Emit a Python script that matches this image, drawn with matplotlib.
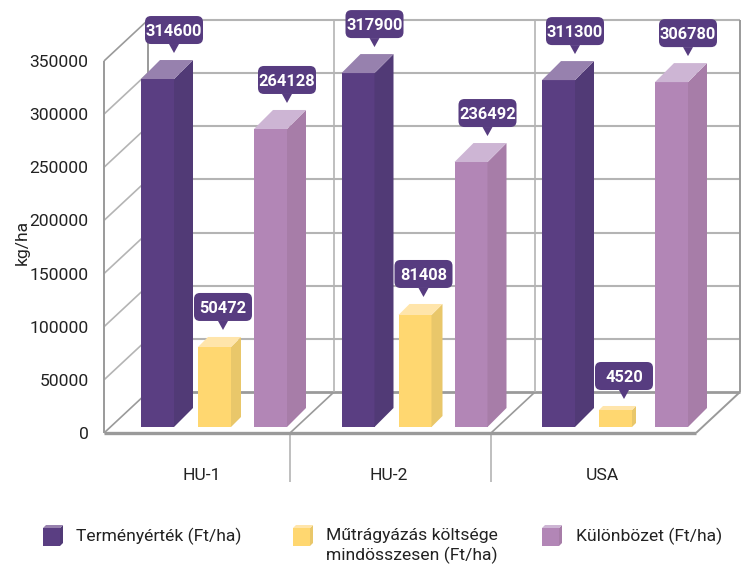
import matplotlib
matplotlib.use("Agg")
import matplotlib.pyplot as plt
from matplotlib.patches import Polygon, FancyBboxPatch

plt.rcParams['font.family'] = ['Roboto', 'Liberation Sans', 'DejaVu Sans']

categories = ['HU-1', 'HU-2', 'USA']
series_names = ['Terményérték (Ft/ha)', 'Műtrágyázás költsége\nmindösszesen (Ft/ha)', 'Különbözet (Ft/ha)']
# printed data labels
label_termeny = [314600, 317900, 311300]
label_mutragya = [50472, 81408, 4520]
label_kulonbozet = [264128, 236492, 306780]
# bar heights as drawn, read against the axis
bar_termeny = [327400, 333000, 326400]
bar_mutragya = [75300, 105400, 16000]
bar_kulonbozet = [280400, 249300, 324500]
y_ticks = [0, 50000, 100000, 150000, 200000, 250000, 300000, 350000]

W, H = 743, 566
L, R, T, B = 104, 696, 61, 433
GX = 200.5              # pixels per category
C0 = 214                # pixel of category 0
UY = 350000 / (B - T)   # value units per pixel

fig = plt.figure(figsize=(W / 100, H / 100), dpi=100, facecolor='white')
ax = fig.add_axes([L / W, 1 - B / H, (R - L) / W, (B - T) / H])
ax.set_xlim((L - C0) / GX, (R - C0) / GX)
ax.set_ylim(0, 350000)
ax.patch.set_visible(False)
for s in ax.spines.values():
    s.set_visible(False)

def X(i, px=0):
    return i + px / GX

def Y(v, px=0):
    return v + px * UY

DX, DY = 44, 41
GRID = '#b4b4b4'
EDGE = '#9a9a9a'

def line(xs, ys, c=GRID, lw=1.2, z=1):
    ax.plot(xs, ys, color=c, lw=lw, zorder=z, clip_on=False, solid_capstyle='butt')

x_left = ax.get_xlim()[0]
x_right = ax.get_xlim()[1]
for v in y_ticks:
    line([x_left, X(x_left, DX)], [v, Y(v, DY)], c=EDGE if v in (0, 350000) else GRID)
    line([X(x_left, DX), X(x_right, DX)], [Y(v, DY), Y(v, DY)],
         c=EDGE if v == 0 else GRID, lw=2 if v == 0 else 1.5)
line([x_left, x_left], [0, 350000], c=EDGE, lw=1.4)
line([X(x_left, DX)] * 2, [Y(0, DY), Y(350000, DY)], c=EDGE, lw=1.4)
line([X(x_right, DX)] * 2, [Y(0, DY), Y(350000, DY)], c=EDGE, lw=1.4)
line([x_right, X(x_right, DX)], [0, Y(0, DY)], c=EDGE, lw=1.4)
line([x_left, x_right], [0, 0], c=EDGE, lw=2.4, z=2)
for px in (290, 491):
    xs = (px - C0) / GX
    line([xs, X(xs, DX)], [0, Y(0, DY)], c=EDGE)
    line([X(xs, DX)] * 2, [Y(0, DY), Y(350000, DY)], c=GRID)
    line([xs, xs], [0, Y(0, -49)], c=GRID)

COLORS = [('#5a3e82', '#513a76', '#9781ae'),
          ('#ffd770', '#e9c76a', '#ffe5ab'),
          ('#b286b6', '#a77da8', '#cdb5d4')]
OFFS = [-73, -16, 40]
BW = 33
DEPTHS = [[19, 19, 19], [10, 11, 4], [19, 19, 19]]
TIP_OFF = [33, 25, 33]
BASE = 6
BOX = '#573c80'

def box3d(x0, x1, b, t, d, cols, z):
    front, side, top = cols
    ax.add_patch(Polygon([(x0, b), (x1, b), (x1, t), (x0, t)], closed=True, fc=front, ec='none', zorder=z, clip_on=False))
    ax.add_patch(Polygon([(x1, b), (X(x1, d), Y(b, d)), (X(x1, d), Y(t, d)), (x1, t)], closed=True, fc=side, ec='none', zorder=z, clip_on=False))
    ax.add_patch(Polygon([(x0, t), (x1, t), (X(x1, d), Y(t, d)), (X(x0, d), Y(t, d))], closed=True, fc=top, ec='none', zorder=z, clip_on=False))

heights = [bar_termeny, bar_mutragya, bar_kulonbozet]
labels = [label_termeny, label_mutragya, label_kulonbozet]
for s, (hs, ls) in enumerate(zip(heights, labels)):
    for i, (h, lab) in enumerate(zip(hs, ls)):
        d = DEPTHS[s][i]
        x0 = X(i, OFFS[s])
        x1 = X(x0, BW)
        b = Y(0, BASE)
        t = b + h
        box3d(x0, x1, b, t, d, COLORS[s], 5)
        tipx = X(x0, TIP_OFF[s])
        tipy = Y(t, d + 7)
        by0 = Y(tipy, 9)
        by1 = Y(by0, 28)
        ax.add_patch(Polygon([(tipx, tipy), (X(tipx, -5), by0), (X(tipx, 5), by0)], closed=True,
                             fc=BOX, ec='none', zorder=6, clip_on=False))
        ax.add_patch(FancyBboxPatch((X(tipx, -29), by0), 58 / GX, by1 - by0,
                                    boxstyle=f'round,pad=0,rounding_size={6 / GX}',
                                    mutation_aspect=UY * GX, fc=BOX, ec='none', zorder=6, clip_on=False))
        ax.text(tipx, (by0 + by1) / 2, str(lab), color='white', fontsize=11.8, fontweight='bold',
                ha='center', va='center_baseline', zorder=7, clip_on=False)

ax.set_yticks(y_ticks)
ax.set_yticklabels([str(v) for v in y_ticks], fontsize=12.6, color='#222222')
ax.tick_params(axis='y', length=0, pad=11)
tick_shift = [-12, -26, -13]
ax.set_xticks([X(i, tick_shift[i]) for i in range(len(categories))])
ax.set_xticklabels(categories, fontsize=12.6, color='#222222')
ax.tick_params(axis='x', length=0, pad=25)
ax.set_ylabel('kg/ha', fontsize=12.6, color='#222222')
ax.yaxis.set_label_coords((30 - L) / (R - L), (B - 242) / (B - T))

leg = fig.add_axes([0, 0, 1, 1])
leg.set_xlim(0, W)
leg.set_ylim(H, 0)
leg.axis('off')
leg.patch.set_visible(False)
for (lx, tx, name, (front, side, top)) in zip((43, 293, 542), (76, 326, 576), series_names, COLORS):
    leg.add_patch(Polygon([(lx, 528), (lx + 17, 528), (lx + 17, 546), (lx, 546)], closed=True, fc=front, ec='none'))
    leg.add_patch(Polygon([(lx + 17, 528), (lx + 20, 525), (lx + 20, 543), (lx + 17, 546)], closed=True, fc=side, ec='none'))
    leg.add_patch(Polygon([(lx, 528), (lx + 3, 525), (lx + 20, 525), (lx + 17, 528)], closed=True, fc=top, ec='none'))
    leg.text(tx, 528, name, fontsize=12.6, color='#222222', ha='left', va='top', linespacing=1.3)

fig.savefig('out.png', dpi=100, facecolor='white')
